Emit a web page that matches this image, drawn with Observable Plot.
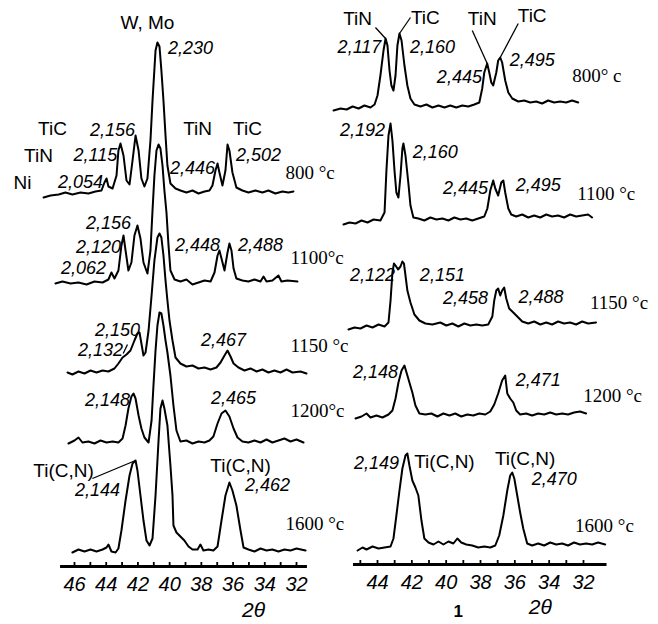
<!DOCTYPE html>
<html><head><meta charset="utf-8">
<script src="https://cdn.jsdelivr.net/npm/d3@7"></script>
<script src="https://cdn.jsdelivr.net/npm/@observablehq/plot@0.6"></script>
<style>
body{margin:0;background:#fff}
#wrap{position:relative;width:658px;height:624px;background:#fff;overflow:hidden}
#left,#right{position:absolute;top:0}
#left{left:0}
#right{left:330px}
svg{overflow:visible}
</style>
</head><body><div id="wrap"><div id="left"></div><div id="right"></div></div>
<script>
// ---------- DATA (2θ in degrees, intensity in arbitrary units above the trace baseline) ----------
const temps = ["800", "1100", "1150", "1200", "1600"];
const leftOffsets = [373, 284, 194, 124, 16];
const rightOffsets = [457, 343, 238, 148, 16];

const left800 = [[47.95,-4],[47.51,-2],[47.0,-1],[46.57,1],[46.13,-1],[45.62,1],[45.12,0],[44.68,2],[44.30,3],[44.11,11],[43.98,15],[43.86,7],[43.60,5],[43.35,18],[43.23,43],[43.10,50],[42.91,38],[42.72,13],[42.53,9],[42.34,33],[42.15,58],[41.96,43],[41.78,15],[41.59,7],[41.40,15],[41.21,53],[41.08,93],[40.89,143],[40.77,151],[40.64,147],[40.52,123],[40.39,93],[40.26,58],[40.14,28],[39.95,10],[39.63,5],[39.32,3],[38.94,1],[38.56,3],[38.18,0],[37.80,2],[37.49,3],[37.30,8],[37.11,23],[36.98,30],[36.86,21],[36.67,8],[36.48,23],[36.35,49],[36.23,43],[36.04,21],[35.79,6],[35.41,3],[35.03,1],[34.59,3],[34.15,1],[33.77,3],[33.33,0],[32.89,2],[32.51,1],[32.19,2]];
const left1100 = [[47.20,-1],[46.76,1],[46.25,-1],[45.75,0],[45.24,-2],[44.74,1],[44.23,0],[43.86,3],[43.67,10],[43.48,4],[43.23,12],[43.04,37],[42.91,47],[42.78,32],[42.60,12],[42.41,20],[42.22,47],[42.03,57],[41.84,44],[41.65,20],[41.40,9],[41.21,32],[41.08,72],[40.96,107],[40.83,132],[40.70,138],[40.58,134],[40.45,117],[40.33,92],[40.20,70],[40.07,37],[39.95,12],[39.69,3],[39.32,1],[38.94,3],[38.56,-2],[38.18,0],[37.80,2],[37.42,1],[37.17,10],[36.98,27],[36.86,32],[36.73,24],[36.54,12],[36.35,30],[36.23,39],[36.10,32],[35.97,14],[35.79,4],[35.41,2],[35.03,1],[34.65,3],[34.27,1],[34.08,6],[33.89,1],[33.52,2],[33.14,7],[32.95,1],[32.57,2],[31.94,1]];
const left1150 = [[46.44,0],[46.13,-2],[45.75,1],[45.37,-1],[44.99,2],[44.61,0],[44.23,2],[43.86,1],[43.48,4],[43.23,9],[42.97,15],[42.72,18],[42.47,22],[42.22,32],[42.03,39],[41.90,40],[41.78,29],[41.65,17],[41.52,20],[41.33,42],[41.14,77],[40.96,112],[40.77,135],[40.64,139],[40.52,135],[40.39,117],[40.26,92],[40.14,72],[40.01,52],[39.82,32],[39.63,15],[39.32,9],[38.94,6],[38.56,7],[38.18,4],[37.80,5],[37.42,3],[37.05,5],[36.79,10],[36.54,17],[36.35,22],[36.16,16],[35.97,9],[35.66,5],[35.28,2],[34.90,4],[34.52,1],[34.15,3],[33.77,0],[33.39,2],[33.01,0],[32.63,3],[32.25,0],[31.75,1],[31.37,-1]];
const left1200 = [[46.38,-1],[46.0,2],[45.75,5],[45.50,0],[45.12,1],[44.74,-1],[44.36,2],[43.98,0],[43.60,1],[43.23,0],[42.97,4],[42.78,17],[42.60,34],[42.41,46],[42.28,49],[42.15,44],[41.96,27],[41.78,14],[41.59,5],[41.33,0],[41.14,22],[41.02,57],[40.89,92],[40.77,117],[40.64,130],[40.52,129],[40.39,117],[40.26,102],[40.14,90],[39.95,67],[39.76,37],[39.57,12],[39.32,1],[38.94,2],[38.56,-1],[38.18,1],[37.80,0],[37.49,2],[37.24,6],[36.98,19],[36.73,29],[36.48,32],[36.23,26],[35.97,14],[35.72,5],[35.41,1],[35.03,0],[34.65,2],[34.27,0],[33.89,3],[33.52,0],[33.14,2],[32.76,4],[32.38,1],[32.00,3],[31.56,0]];
const left1600 = [[46.13,-2],[45.75,1],[45.37,-1],[44.99,1],[44.61,-1],[44.23,1],[43.98,3],[43.86,6],[43.67,-1],[43.41,-2],[43.23,2],[43.04,20],[42.78,50],[42.53,75],[42.34,87],[42.15,90],[42.03,80],[41.84,55],[41.65,30],[41.46,10],[41.27,5],[41.08,12],[40.89,55],[40.70,110],[40.58,142],[40.45,150],[40.33,142],[40.14,125],[39.95,85],[39.82,55],[39.76,25],[39.57,18],[39.32,14],[39.07,10],[38.81,4],[38.56,1],[38.24,1],[38.06,6],[37.87,0],[37.55,1],[37.24,0],[36.98,4],[36.73,30],[36.48,55],[36.23,68],[36.04,60],[35.79,45],[35.53,20],[35.34,3],[35.03,1],[34.65,-1],[34.27,2],[33.89,0],[33.52,1],[33.14,-1],[32.76,1],[32.38,0],[32.00,2],[31.43,0]];

const right800 = [[46.56,-3],[46.15,-1],[45.80,-2],[45.45,1],[45.10,-1],[44.76,2],[44.41,0],[44.17,3],[44.00,12],[43.83,32],[43.65,57],[43.53,69],[43.42,62],[43.30,37],[43.19,22],[43.07,17],[42.95,32],[42.84,62],[42.72,74],[42.60,67],[42.43,42],[42.26,22],[42.08,9],[41.85,3],[41.50,1],[41.15,3],[40.80,0],[40.45,2],[40.10,0],[39.76,2],[39.41,0],[39.06,2],[38.71,1],[38.36,3],[38.07,5],[37.90,19],[37.78,35],[37.61,44],[37.49,35],[37.37,25],[37.26,22],[37.08,35],[36.97,47],[36.85,50],[36.74,45],[36.56,27],[36.38,15],[36.15,9],[35.80,6],[35.45,7],[35.10,5],[34.76,6],[34.41,4],[34.06,7],[33.71,5],[33.36,6],[33.01,5],[32.66,7],[32.31,5]];
const right1100 = [[45.98,-3],[45.63,-1],[45.28,-2],[44.93,1],[44.58,-1],[44.23,2],[43.83,1],[43.59,9],[43.48,51],[43.36,86],[43.24,98],[43.13,81],[43.01,51],[42.90,29],[42.78,24],[42.66,46],[42.55,73],[42.49,78],[42.37,66],[42.20,38],[42.08,16],[41.91,4],[41.62,3],[41.27,1],[40.92,4],[40.57,2],[40.22,3],[39.87,1],[39.52,4],[39.17,2],[38.83,3],[38.48,1],[38.13,3],[37.78,5],[37.60,13],[37.43,31],[37.26,41],[37.14,33],[36.97,26],[36.79,39],[36.67,41],[36.56,29],[36.38,13],[36.21,7],[35.92,5],[35.57,7],[35.22,4],[34.87,6],[34.52,4],[34.17,7],[33.83,5],[33.48,6],[33.13,4],[32.78,7],[32.43,5],[32.08,6],[31.73,7],[31.50,4]];
const right1150 = [[45.69,-3],[45.34,-1],[44.99,-2],[44.64,1],[44.29,-1],[43.94,2],[43.59,0],[43.36,4],[43.24,26],[43.13,54],[43.04,63],[42.95,61],[42.80,57],[42.66,60],[42.55,65],[42.46,63],[42.37,51],[42.26,36],[42.08,24],[41.85,12],[41.56,6],[41.21,3],[40.80,2],[40.34,4],[39.99,1],[39.64,3],[39.29,0],[38.94,3],[38.59,1],[38.24,2],[37.90,1],[37.55,2],[37.31,10],[37.20,26],[37.08,36],[36.97,38],[36.85,31],[36.74,36],[36.62,39],[36.50,28],[36.33,18],[36.09,14],[35.80,9],[35.57,5],[35.22,3],[34.87,5],[34.52,2],[34.17,4],[33.83,2],[33.48,5],[33.13,3],[32.78,4],[32.43,2],[32.08,5],[31.73,3],[31.27,4]];
const right1200 = [[45.28,-2],[44.93,0],[44.64,3],[44.41,-1],[44.06,1],[43.71,-1],[43.36,2],[43.13,6],[42.95,18],[42.78,34],[42.60,46],[42.43,51],[42.31,44],[42.14,34],[41.97,24],[41.79,11],[41.56,3],[41.21,2],[40.86,3],[40.51,0],[40.16,3],[39.81,1],[39.47,3],[39.12,0],[38.77,2],[38.42,1],[38.07,3],[37.72,2],[37.43,5],[37.20,12],[36.97,23],[36.74,36],[36.56,41],[36.44,23],[36.27,18],[36.09,14],[35.92,6],[35.69,2],[35.34,3],[34.99,1],[34.64,3],[34.29,2],[33.94,4],[33.59,2],[33.24,3],[32.90,2],[32.55,4],[32.20,5],[31.85,3]];
const right1600 = [[45.16,-2],[44.87,1],[44.64,-1],[44.29,2],[43.94,0],[43.59,1],[43.24,2],[43.07,10],[42.90,33],[42.72,58],[42.55,80],[42.37,93],[42.26,95],[42.14,83],[41.97,68],[41.79,61],[41.62,53],[41.44,28],[41.27,10],[41.03,6],[40.74,4],[40.45,7],[40.16,4],[39.87,7],[39.58,5],[39.35,10],[39.12,6],[38.83,4],[38.48,3],[38.13,1],[37.78,2],[37.43,1],[37.14,3],[36.91,13],[36.67,33],[36.44,58],[36.27,73],[36.15,76],[36.03,70],[35.86,53],[35.69,36],[35.51,20],[35.28,5],[34.99,3],[34.64,5],[34.29,3],[33.94,6],[33.59,4],[33.24,5],[32.90,3],[32.55,6],[32.20,4],[31.85,5],[31.50,4],[31.15,6],[30.74,4]];

const leftTraces = [left800, left1100, left1150, left1200, left1600];
const rightTraces = [right800, right1100, right1150, right1200, right1600];

// tick values / tick labels
const leftTicks = d3.range(46, 31, -1);
const leftTickLabels = [46, 44, 42, 40, 38, 36, 34, 32];
const rightTicks = d3.range(45, 31, -1);
const rightTickLabels = [44, 42, 40, 38, 36, 34, 32];
const leftAxisExtent = [46.88, 31.31];
const rightAxisExtent = [45.40, 30.63];

// annotations: [text, 2θ, level, kind]
const leftLabels = [
  ["W, Mo", 41.40, 544, "phase"], ["2,230", 38.69, 518, "d"],
  ["TiC", 47.39, 438, "phase"], ["TiN", 48.27, 411, "phase"], ["Ni", 49.28, 384, "phase"],
  ["2,156", 43.60, 436, "d"], ["2,115", 44.68, 411, "d"], ["2,054", 45.62, 384, "d"],
  ["TiN", 38.24, 438, "phase"], ["TiC", 35.09, 438, "phase"],
  ["2,446", 38.56, 398, "d"], ["2,502", 34.40, 411, "d"], ["800 °c", 32.70, 394, "temp"],
  ["2,156", 43.86, 343, "d"], ["2,120", 44.49, 319, "d"], ["2,062", 45.43, 298, "d"],
  ["2,448", 38.24, 321, "d"], ["2,488", 34.27, 321, "d"], ["1100°c", 32.38, 309, "temp"],
  ["2,150", 43.29, 236, "d"], ["2,132", 44.36, 216, "d"], ["2,467", 36.61, 226, "d"], ["1150 °c", 32.38, 221, "temp"],
  ["2,148", 43.92, 166, "d"], ["2,465", 35.97, 168, "d"], ["1200°c", 32.38, 156, "temp"],
  ["Ti(C,N)", 46.69, 96, "phase"], ["2,144", 44.55, 76, "d"],
  ["Ti(C,N)", 35.53, 101, "phase"], ["2,462", 33.83, 81, "d"], ["1600 °c", 32.70, 43, "temp"],
  ["2θ", 34.71, -44, "axis"]
];
const rightLabels = [
  ["TiN", 45.16, 546, "phase"], ["TiC", 41.21, 547, "phase"], ["TiN", 37.90, 546, "phase"], ["TiC", 34.99, 549, "phase"],
  ["2,117", 45.05, 517, "d"], ["2,160", 40.80, 517, "d"], ["2,445", 39.23, 487, "d"], ["2,495", 34.99, 504, "d"],
  ["800° c", 32.66, 489, "temp"],
  ["2,192", 44.87, 434, "d"], ["2,160", 40.63, 412, "d"], ["2,445", 38.88, 376, "d"], ["2,495", 34.64, 379, "d"],
  ["1100 °c", 32.37, 371, "temp"],
  ["2,122", 44.29, 289, "d"], ["2,151", 40.22, 289, "d"], ["2,458", 38.88, 266, "d"], ["2,488", 34.47, 267, "d"],
  ["1150 °c", 31.62, 262, "temp"],
  ["2,148", 44.12, 192, "d"], ["2,471", 34.64, 184, "d"], ["1200 °c", 32.02, 169, "temp"],
  ["2,149", 44.06, 101, "d"], ["Ti(C,N)", 40.10, 103, "phase"], ["Ti(C,N)", 35.40, 106, "phase"], ["2,470", 33.70, 85, "d"],
  ["1600 °c", 32.49, 39, "temp"],
  ["2θ", 34.52, -43, "axis"], ["1", 39.29, -47, "num"]
];
// leader lines: [x1, y1, x2, y2]
const leftLeaders = [[44.87, 88, 42.15, 106], [42.93, 213, 42.66, 222]];
const rightLeaders = [[44.12, 537, 43.53, 526], [42.08, 547, 42.72, 531], [38.48, 534, 37.61, 501], [35.80, 541, 36.85, 507]];

// ---------- BUILD ----------
function rows(traces, offsets) {
  const out = [];
  traces.forEach((tr, i) => tr.forEach(([x, v]) => out.push({temp: temps[i], x, y: offsets[i] + v})));
  return out;
}
const styles = {
  d: {fontFamily: "Liberation Sans, Arial, sans-serif", fontStyle: "italic", fontSize: 18, textAnchor: "middle"},
  phase: {fontFamily: "Liberation Sans, Arial, sans-serif", fontSize: 19, textAnchor: "middle"},
  temp: {fontFamily: "Liberation Serif, Times New Roman, serif", fontSize: 19, textAnchor: "start"},
  axis: {fontFamily: "Liberation Sans, Arial, sans-serif", fontStyle: "italic", fontSize: 21, textAnchor: "middle"},
  num: {fontFamily: "Liberation Sans, Arial, sans-serif", fontWeight: "bold", fontSize: 17, textAnchor: "middle"}
};
function panel({traces, offsets, width, xRange, axisY, ticks, tickLabels, extent, labels, leaders}) {
  const data = rows(traces, offsets);
  const textMarks = Object.keys(styles).map(k =>
    Plot.text(labels.filter(l => l[3] === k), {x: d => d[1], y: d => d[2], text: d => d[0], fill: "black", ...styles[k]}));
  return Plot.plot({
    width, height: 624,
    marginTop: 0, marginBottom: 624 - axisY, marginLeft: 0, marginRight: 0,
    style: {background: "transparent", overflow: "visible"},
    x: {domain: [tickLabels[0], 32], range: xRange, axis: null},
    y: {domain: [0, axisY], range: [axisY, 0], axis: null},
    marks: [
      Plot.line(data, {x: "x", y: "y", z: "temp", stroke: "black", strokeWidth: 2, strokeLinejoin: "round"}),
      Plot.ruleY([0], {x1: extent[0], x2: extent[1], stroke: "black", strokeWidth: 3.2}),
      Plot.ruleX(ticks, {x: d => d, y1: 0, y2: 4, stroke: "black", strokeWidth: 1.8}),
      Plot.axisX({ticks: tickLabels, tickSize: 0, tickPadding: 10, fontSize: 20, fontStyle: "italic",
        fontFamily: "Liberation Sans, Arial, sans-serif", label: null, tickFormat: d => String(d)}),
      Plot.link(leaders, {x1: d => d[0], y1: d => d[1], x2: d => d[2], y2: d => d[3], stroke: "black", strokeWidth: 1.3}),
      ...textMarks
    ]
  });
}
document.getElementById("left").append(panel({
  traces: leftTraces, offsets: leftOffsets, width: 330, xRange: [74, 296], axisY: 566,
  ticks: leftTicks, tickLabels: leftTickLabels, extent: leftAxisExtent, labels: leftLabels, leaders: leftLeaders
}));
document.getElementById("right").append(panel({
  traces: rightTraces, offsets: rightOffsets, width: 328, xRange: [47, 253], axisY: 564,
  ticks: rightTicks, tickLabels: rightTickLabels, extent: rightAxisExtent, labels: rightLabels, leaders: rightLeaders
}));
</script></body></html>
